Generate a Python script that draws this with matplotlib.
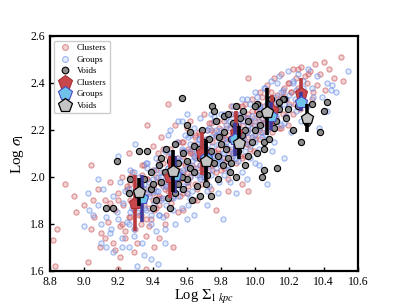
import matplotlib
matplotlib.use("Agg")
import matplotlib.pyplot as plt
from matplotlib.lines import Line2D

plt.rcParams['font.family'] = ['Liberation Serif', 'DejaVu Serif']
plt.rcParams['mathtext.fontset'] = 'stix'

# ---------------- individual galaxies ----------------
cl_x = [8.82, 8.84, 8.83, 8.89, 8.94, 8.95, 9.02, 9.04, 9.04, 9.09, 9.20, 9.29, 9.36, 9.52, 9.26, 9.37, 9.49, 9.53,
        9.96, 10.40, 10.50, 10.51, 9.77, 9.96,
        9.00, 9.06, 9.08, 9.10, 9.12, 9.14, 9.15, 9.17, 9.18, 9.20, 9.21, 9.22, 9.23, 9.24, 9.25, 9.26, 9.27, 9.28,
        9.29, 9.30, 9.31, 9.32, 9.33, 9.34, 9.35, 9.36, 9.37, 9.38, 9.39, 9.40, 9.41, 9.42, 9.43, 9.44, 9.45, 9.46,
        9.47, 9.48, 9.49, 9.50, 9.51, 9.52, 9.53, 9.54, 9.55, 9.56, 9.57, 9.58, 9.59, 9.60, 9.61, 9.62, 9.63, 9.64,
        9.65, 9.66, 9.67, 9.68, 9.69, 9.70, 9.71, 9.72, 9.73, 9.74, 9.75, 9.76, 9.77, 9.78, 9.79, 9.80, 9.81, 9.82,
        9.83, 9.84, 9.85, 9.86, 9.87, 9.88, 9.89, 9.90, 9.91, 9.92, 9.93, 9.94, 9.95, 9.96, 9.97, 9.98, 9.99, 10.00,
        10.01, 10.02, 10.03, 10.04, 10.05, 10.06, 10.07, 10.08, 10.09, 10.10, 10.11, 10.12, 10.13, 10.14, 10.15,
        10.16, 10.17, 10.18, 10.19, 10.20, 10.21, 10.22, 10.23, 10.24, 10.25, 10.26, 10.27, 10.28, 10.29, 10.30,
        10.32, 10.33, 10.35, 10.36, 10.38, 10.41, 10.43, 10.46,
        9.42, 9.47, 9.52, 9.55, 9.58, 9.62, 9.66, 9.69, 9.72, 9.75, 9.78, 9.81, 9.84, 9.87, 9.90, 9.93, 9.96, 9.99,
        10.02, 10.05, 9.35, 9.38, 9.44, 9.50, 9.57, 9.64, 9.71, 9.76, 9.83, 9.89, 9.95, 10.01, 10.08, 10.14, 10.20,
        9.30, 9.27, 9.33, 9.40, 9.46, 9.60, 9.68, 9.74, 9.80, 9.86, 9.92, 9.98, 10.04, 10.10, 10.16, 10.22, 10.28,
        10.34]
cl_y = [1.73, 1.78, 1.62, 1.97, 1.92, 1.85, 1.64, 1.78, 2.05, 1.70, 1.61, 1.68, 1.61, 1.70, 2.10, 2.22, 2.31, 2.22,
        2.42, 2.49, 2.51, 2.41, 1.86, 1.94,
        1.88, 1.83, 1.95, 1.76, 1.90, 1.81, 1.98, 1.72, 1.86, 1.93, 1.79, 2.00, 1.88, 1.74, 1.95, 1.83, 1.90, 2.02,
        1.86, 1.78, 1.96, 1.84, 1.91, 2.05, 1.88, 1.75, 1.99, 1.93, 1.82, 2.03, 1.95, 1.87, 2.10, 1.98, 1.91, 2.06,
        1.80, 2.01, 1.94, 2.12, 1.89, 2.04, 1.97, 2.08, 1.85, 2.00, 2.15, 1.93, 2.06, 2.02, 1.96, 2.11, 2.05, 1.90,
        2.18, 2.08, 2.01, 2.13, 1.97, 2.10, 2.04, 2.20, 2.07, 1.95, 2.15, 2.11, 2.02, 2.24, 2.09, 2.17, 2.05, 2.13,
        2.21, 1.99, 2.16, 2.27, 2.10, 2.19, 2.06, 2.23, 2.14, 2.30, 2.18, 2.09, 2.25, 2.20, 2.12, 2.33, 2.22, 2.16,
        2.28, 2.24, 2.36, 2.19, 2.30, 2.26, 2.39, 2.21, 2.32, 2.28, 2.42, 2.25, 2.35, 2.30, 2.44,
        2.27, 2.38, 2.33, 2.22, 2.40, 2.36, 2.46, 2.31, 2.42, 2.38, 2.29, 2.47, 2.35, 2.43, 2.40,
        2.45, 2.33, 2.48, 2.39, 2.44, 2.37, 2.46, 2.42,
        2.00, 1.95, 1.98, 2.03, 2.09, 2.00, 2.04, 2.07, 2.12, 2.05, 2.10, 2.16, 2.12, 2.18, 2.15, 2.22, 2.17, 2.25,
        2.20, 2.23, 1.95, 1.87, 1.92, 2.06, 1.99, 2.14, 1.99, 2.19, 2.07, 2.25, 2.14, 2.31, 2.27, 2.21, 2.31,
        1.90, 1.97, 1.80, 1.90, 2.02, 1.93, 2.18, 2.23, 2.03, 2.22, 2.08, 2.28, 2.34, 2.19, 2.34, 2.27, 2.32,
        2.36]
cl_x2 = [9.63, 9.41, 10.02, 9.78, 9.55, 10.18, 9.87, 9.33, 9.72, 9.94, 9.48, 9.66, 10.09, 9.59, 9.81, 9.37, 10.25,
         9.52, 9.91, 9.69, 9.44, 10.06, 9.76, 9.29, 9.84, 9.61, 10.13, 9.46, 9.99, 9.57, 9.74, 9.39, 10.21, 9.89,
         9.51, 9.67, 9.25, 10.04, 9.82, 9.58, 9.43, 9.96, 9.71, 10.15, 9.35, 9.86, 9.64, 9.53, 9.79, 9.22, 10.00,
         9.47, 9.92, 9.60, 9.75, 10.11, 9.31, 9.68, 9.85, 9.42, 10.27, 9.56, 9.97, 9.73, 9.49, 9.88, 9.62, 10.07,
         9.36, 9.80, 9.54, 10.19, 9.70, 9.45, 9.93, 9.65, 9.83, 9.27, 10.03, 9.58, 9.77, 9.50, 9.95, 10.31, 9.40,
         9.74, 9.61, 9.86, 10.12, 9.34, 9.69, 9.90, 9.55, 9.82, 9.44, 10.01, 9.72, 9.20, 9.65, 10.16,
         9.12, 9.18, 9.24, 9.31, 9.38, 9.44, 9.27, 9.15, 9.05, 9.21, 9.41, 9.48, 9.58, 9.66, 9.84, 9.92, 9.45,
         9.62, 9.70, 9.40]
cl_y2 = [2.10, 1.86, 2.31, 2.12, 2.15, 2.26, 2.19, 1.84, 2.16, 2.31, 1.96, 1.95, 2.36, 2.05, 2.08, 1.99, 2.46,
         2.01, 2.09, 2.16, 2.07, 2.23, 2.24, 1.87, 2.18, 1.98, 2.33, 2.12, 2.11, 2.11, 2.07, 1.96, 2.36, 2.27,
         1.91, 2.19, 1.96, 2.25, 2.04, 2.02, 1.91, 2.27, 2.09, 2.21, 2.05, 2.30, 2.09, 2.07, 2.21, 1.80, 2.18,
         2.02, 2.17, 2.21, 2.03, 2.30, 1.95, 2.05, 2.11, 2.03, 2.32, 1.92, 2.23, 2.23, 2.09, 2.16, 2.10, 2.37,
         1.82, 2.18, 1.97, 2.40, 2.00, 1.97, 2.26, 2.17, 2.16, 2.00, 2.16, 2.15, 2.17, 2.02, 2.14, 2.44, 1.93,
         2.20, 2.12, 2.08, 2.28, 2.01, 2.03, 2.30, 2.06, 2.24, 1.88, 2.28, 2.08, 1.90, 1.97, 2.36,
         1.74, 1.69, 1.77, 1.72, 1.79, 1.74, 1.83, 1.89, 1.90, 1.66, 1.70, 1.84, 1.86, 1.90, 1.94, 1.97, 2.17,
         2.24, 2.27, 2.13]

gr_x = [9.30, 9.20, 9.60, 9.81, 10.07, 9.89, 10.17, 10.10, 10.45, 10.54, 9.31, 9.43, 9.17, 9.13, 9.00, 9.02, 9.05,
        9.10, 10.44, 10.42, 10.37,
        9.08, 9.11, 9.13, 9.15, 9.17, 9.19, 9.21, 9.22, 9.23, 9.25, 9.26, 9.27, 9.28, 9.29, 9.30, 9.31, 9.32, 9.33,
        9.34, 9.35, 9.36, 9.37, 9.38, 9.39, 9.40, 9.41, 9.42, 9.43, 9.44, 9.45, 9.46, 9.47, 9.48, 9.49, 9.50, 9.51,
        9.52, 9.53, 9.54, 9.55, 9.56, 9.57, 9.58, 9.59, 9.60, 9.61, 9.62, 9.63, 9.64, 9.65, 9.66, 9.67, 9.68, 9.69,
        9.70, 9.71, 9.72, 9.73, 9.74, 9.75, 9.76, 9.77, 9.78, 9.79, 9.80, 9.81, 9.82, 9.83, 9.84, 9.85, 9.86, 9.87,
        9.88, 9.89, 9.90, 9.91, 9.92, 9.93, 9.94, 9.95, 9.96, 9.97, 9.98, 9.99, 10.00, 10.01, 10.02, 10.03, 10.04,
        10.05, 10.06, 10.07, 10.08, 10.09, 10.10, 10.11, 10.12, 10.13, 10.14, 10.15, 10.16, 10.17, 10.18, 10.19,
        10.20, 10.21, 10.22, 10.23, 10.24, 10.25, 10.26, 10.27, 10.28, 10.30, 10.31, 10.33, 10.36, 10.39, 10.42,
        10.47,
        9.40, 9.45, 9.50, 9.55, 9.60, 9.65, 9.70, 9.75, 9.80, 9.85, 9.90, 9.95, 10.00, 10.05, 9.43, 9.48, 9.53,
        9.58, 9.63, 9.68, 9.73, 9.78, 9.83, 9.88, 9.93, 9.98, 10.03, 10.08, 10.13, 9.36, 9.33, 9.39, 9.46, 9.52,
        9.57, 9.62, 9.67, 9.72, 9.77, 9.82, 9.87, 9.92, 9.97, 10.02, 10.07, 10.12, 10.18, 10.24, 9.55, 9.49, 9.74,
        9.61, 9.85, 10.00, 9.47, 9.64]
gr_y = [2.14, 2.09, 2.27, 1.82, 1.97, 1.93, 2.08, 2.11, 2.39, 2.45, 1.62, 1.63, 1.68, 1.70, 1.79, 1.93, 1.84,
        1.80, 2.37, 2.28, 2.21,
        1.88, 1.95, 1.83, 1.76, 1.92, 1.85, 1.98, 1.74, 1.89, 1.81, 1.95, 2.03, 1.87, 1.78, 1.93, 1.85, 2.00, 1.90,
        1.72, 1.97, 1.86, 2.06, 1.92, 1.80, 1.99, 1.89, 2.08, 1.94, 1.84, 2.02, 1.96, 2.12, 1.88, 2.04, 1.97, 2.09,
        1.91, 2.01, 2.15, 1.95, 2.07, 1.87, 2.03, 2.11, 1.98, 2.06, 2.18, 1.94, 2.09, 2.02, 2.14, 1.92, 2.05, 2.20,
        2.00, 2.12, 2.07, 1.96, 2.17, 2.09, 2.24, 2.04, 2.14, 1.98, 2.20, 2.10, 2.27, 2.15, 2.05, 2.21, 2.12, 2.30,
        2.17, 2.08, 2.24, 2.19, 2.02, 2.28, 2.15, 2.33, 2.22, 2.08, 2.26, 2.18, 2.36, 2.21, 2.12, 2.29, 2.25,
        2.38, 2.18, 2.31, 2.24, 2.41, 2.27, 2.15, 2.34, 2.29, 2.43, 2.22, 2.37, 2.31, 2.26, 2.45,
        2.35, 2.19, 2.40, 2.33, 2.28, 2.44, 2.37, 2.24, 2.41, 2.30, 2.46, 2.38, 2.43, 2.34, 2.40,
        2.36,
        1.94, 1.90, 2.02, 2.00, 2.04, 2.08, 2.05, 2.13, 2.07, 2.16, 2.12, 2.19, 2.15, 2.22, 2.00, 1.96, 2.07,
        1.96, 2.12, 2.00, 2.10, 2.06, 2.22, 2.11, 2.17, 2.21, 2.19, 2.33, 2.24, 1.93, 1.96, 2.02, 1.83, 1.86,
        2.12, 1.91, 2.16, 1.94, 2.18, 2.01, 2.09, 2.26, 2.13, 2.30, 2.20, 2.26, 2.33, 2.37, 2.24, 2.18, 2.27,
        1.88, 1.98, 2.06, 1.78, 1.84]
gr_x2 = [9.58, 9.83, 9.39, 10.05, 9.71, 9.46, 9.92, 9.64, 10.14, 9.52, 9.77, 9.33, 9.98, 9.61, 9.86, 9.44, 10.22,
         9.69, 9.80, 9.55, 9.27, 10.01, 9.74, 9.49, 9.89, 9.66, 10.10, 9.37, 9.95, 9.59, 9.81, 9.42, 10.17, 9.73,
         9.51, 9.90, 9.63, 9.24, 10.04, 9.78, 9.47, 9.85, 9.68, 10.28, 9.56, 9.93, 9.35, 9.76, 10.08, 9.62, 9.84,
         9.50, 9.97, 9.70, 9.41, 10.13, 9.79, 9.57, 9.88, 9.31, 9.65, 10.00, 9.53, 9.75, 9.91, 9.45, 10.20, 9.67,
         9.82, 9.38, 9.60, 9.96, 9.72, 10.06, 9.54, 9.87, 9.29, 9.64, 10.03, 9.48, 9.80, 9.58, 9.94, 10.34, 9.43,
         9.70, 9.86, 10.11, 9.36, 9.76, 9.55, 9.99, 9.66, 9.83, 9.26, 10.15, 9.51, 9.73, 9.90, 9.62,
         9.10, 9.16, 9.22, 9.29, 9.35, 9.42, 9.47, 9.53, 9.60, 9.03, 9.08, 9.20, 9.72, 9.78, 9.95, 10.02, 9.50,
         9.57, 9.68, 9.36, 9.26, 9.39]
gr_y2 = [2.00, 2.25, 1.84, 2.28, 2.16, 1.91, 2.33, 2.04, 2.30, 1.92, 2.20, 1.97, 2.17, 2.17, 2.16, 1.84, 2.41,
         2.13, 2.06, 2.08, 1.85, 2.34, 2.01, 2.04, 2.24, 2.01, 2.24, 2.04, 2.19, 2.18, 2.16, 1.94, 2.23, 2.21,
         2.08, 2.07, 2.07, 1.94, 2.17, 2.18, 2.11, 2.24, 1.99, 2.38, 2.02, 2.24, 1.87, 2.09, 2.33, 2.14, 2.03,
         1.96, 2.31, 2.11, 2.03, 2.40, 2.08, 1.95, 2.20, 1.89, 2.13, 2.24, 2.14, 2.10, 2.27, 2.00, 2.30, 2.16,
         2.10, 1.98, 1.93, 2.25, 2.20, 2.38, 2.07, 2.10, 2.02, 2.21, 2.30, 1.99, 2.27, 2.11, 2.11, 2.34, 2.05,
         2.04, 2.27, 2.31, 1.95, 2.26, 1.92, 2.30, 2.10, 2.13, 1.80, 2.36, 2.10, 2.03, 2.21, 2.00,
         1.72, 1.78, 1.70, 1.75, 1.67, 1.77, 1.72, 1.80, 1.82, 1.86, 1.99, 1.82, 1.88, 1.93, 1.99, 2.05, 2.20,
         2.24, 2.25, 2.06, 1.70, 1.65]

vo_x = [9.57, 9.32, 9.19, 9.74, 9.89, 10.04, 10.05, 10.13, 10.27, 10.33, 10.38, 10.40, 10.42, 10.17,
        9.13, 9.17, 9.26, 9.27, 9.29, 9.39, 9.39, 9.40, 9.50, 9.47, 9.37,
        9.45, 9.50, 9.53, 9.55, 9.58, 9.60, 9.62, 9.64, 9.66, 9.68, 9.70, 9.72, 9.74, 9.76, 9.78, 9.80, 9.82, 9.84,
        9.86, 9.88, 9.90, 9.92, 9.94, 9.96, 9.98, 10.00, 10.02, 10.05, 10.07, 10.09, 10.11, 10.14, 10.18, 10.22,
        10.25, 10.30, 9.42, 9.48, 9.63, 9.69, 9.77, 9.85, 9.93, 10.01, 9.35, 9.57, 9.81, 9.60, 9.75,
        10.05, 10.16, 10.14, 10.01, 9.87, 9.82,
        9.44, 9.58, 9.67, 9.79, 9.91, 10.03, 9.53, 9.71, 9.84, 9.96, 10.10, 9.62, 9.86, 9.49, 9.73, 10.00, 9.64,
        9.89, 9.55, 10.19, 9.78, 9.45, 9.68, 9.94, 10.08, 9.83, 9.60, 9.40, 10.12, 9.76]
vo_y = [2.335, 2.11, 2.07, 1.92, 2.00, 2.00, 2.03, 2.04, 2.15, 2.31, 2.19, 2.28, 2.32, 2.33,
        1.87, 1.87, 1.93, 1.99, 1.89, 2.02, 1.95, 1.87, 1.87, 2.02, 2.11,
        1.98, 2.07, 1.93, 2.06, 2.10, 1.99, 2.04, 2.13, 1.96, 2.08, 2.15, 2.01, 2.11, 2.06, 1.99, 2.14, 2.19, 2.08,
        2.16, 2.22, 2.11, 2.18, 2.05, 2.24, 2.15, 2.20, 2.27, 2.12, 2.26, 2.33, 2.21, 2.29, 2.25, 2.20,
        2.30, 2.23, 1.90, 2.12, 1.90, 2.20, 2.24, 2.02, 2.28, 2.10, 1.99, 2.00, 2.05, 2.22, 2.30,
        2.15, 2.33, 2.32, 2.31, 2.23, 2.26,
        2.05, 1.95, 2.12, 2.17, 2.25, 2.22, 2.14, 1.97, 2.27, 2.09, 2.28, 2.19, 2.06, 1.91, 2.16, 2.30, 2.02,
        2.30, 1.97, 2.29, 2.09, 2.08, 1.92, 2.20, 2.16, 2.12, 2.07, 1.97, 2.24, 2.28]

# ---------------- binned medians ----------------
bin_cl_x = [9.30, 9.50, 9.69, 9.89, 10.10, 10.27]
bin_cl_y = [1.89, 2.00, 2.10, 2.19, 2.285, 2.357]
bin_cl_e = [0.12, 0.09, 0.09, 0.09, 0.065, 0.065]

bin_gr_x = [9.34, 9.53, 9.71, 9.88, 10.09, 10.27]
bin_gr_y = [1.91, 2.01, 2.08, 2.16, 2.26, 2.32]
bin_gr_e = [0.10, 0.08, 0.07, 0.07, 0.06, 0.04]

bin_vo_x = [9.32, 9.52, 9.71, 9.905, 10.07, 10.30]
bin_vo_y = [1.936, 2.026, 2.068, 2.145, 2.277, 2.25]
bin_vo_e = [0.06, 0.09, 0.09, 0.07, 0.10, 0.06]

xticks = [8.8, 9.0, 9.2, 9.4, 9.6, 9.8, 10.0, 10.2, 10.4, 10.6]
yticks = [1.6, 1.8, 2.0, 2.2, 2.4, 2.6]

fig = plt.figure(figsize=(3.99, 3.05), dpi=100)
ax = fig.add_axes([0.125, 0.1115, 0.772, 0.7705])

cl_face = (0.85, 0.45, 0.47, 0.32)
cl_edge = (0.78, 0.30, 0.32, 0.55)
gr_face = (0.62, 0.72, 0.95, 0.28)
gr_edge = (0.40, 0.55, 0.90, 0.60)
vo_face = (0.47, 0.47, 0.47, 0.85)

ax.scatter(cl_x + cl_x2, cl_y + cl_y2, s=14, facecolor=cl_face, edgecolor=cl_edge, linewidth=0.8, zorder=2)
ax.scatter(gr_x + gr_x2, gr_y + gr_y2, s=14, facecolor=gr_face, edgecolor=gr_edge, linewidth=0.8, zorder=2)
ax.scatter(vo_x, vo_y, s=20, facecolor=vo_face, edgecolor='black', linewidth=0.8, zorder=3)

ax.errorbar(bin_cl_x, bin_cl_y, yerr=bin_cl_e, fmt='p', ms=9, mfc='#c8474b', mec='#a83035', mew=0.8,
            ecolor='#b83a3e', elinewidth=2.6, capsize=0, zorder=5)
ax.errorbar(bin_gr_x, bin_gr_y, yerr=bin_gr_e, fmt='p', ms=9, mfc='#6fc3ea', mec='#4a48c0', mew=0.8,
            ecolor='#3f3a9a', elinewidth=2.6, capsize=0, zorder=6)
ax.errorbar(bin_vo_x, bin_vo_y, yerr=bin_vo_e, fmt='p', ms=9, mfc='#c4c4c4', mec='black', mew=0.9,
            ecolor='black', elinewidth=2.6, capsize=0, zorder=7)

ax.set_xlim(8.8, 10.6)
ax.set_ylim(1.6, 2.6)
ax.set_xticks(xticks)
ax.set_yticks(yticks)
ax.set_xticklabels([f"{t:.1f}" for t in xticks])
ax.set_yticklabels([f"{t:.1f}" for t in yticks])
ax.tick_params(direction='in', labelsize=8.5, length=3, width=1)
for sp in ax.spines.values():
    sp.set_linewidth(1.6)

ax.set_xlabel(r'Log $\Sigma_{1\ kpc}$', fontsize=10.5, labelpad=0)
ax.set_ylabel(r'Log $\sigma_{\rm l}$', fontsize=11, labelpad=3)

handles = [
    Line2D([], [], ls='none', marker='o', ms=4.2, mfc=cl_face, mec=cl_edge, mew=0.8),
    Line2D([], [], ls='none', marker='o', ms=4.2, mfc=gr_face, mec=gr_edge, mew=0.8),
    Line2D([], [], ls='none', marker='o', ms=4.8, mfc=vo_face, mec='black', mew=0.8),
    Line2D([], [], ls='none', marker='p', ms=10, mfc='#c8474b', mec='#a83035', mew=0.8),
    Line2D([], [], ls='none', marker='p', ms=10, mfc='#6fc3ea', mec='#4a48c0', mew=0.8),
    Line2D([], [], ls='none', marker='p', ms=10, mfc='#c4c4c4', mec='black', mew=0.9),
]
labels = ['Clusters', 'Groups', 'Voids', 'Clusters', 'Groups', 'Voids']
ax.legend(handles, labels, loc='upper left', fontsize=6.5, frameon=True, labelspacing=0.35,
          handletextpad=0.6, borderpad=0.4, handlelength=1.5, framealpha=1, edgecolor='#cccccc',
          fancybox=True)

fig.savefig('out.png', dpi=100)
